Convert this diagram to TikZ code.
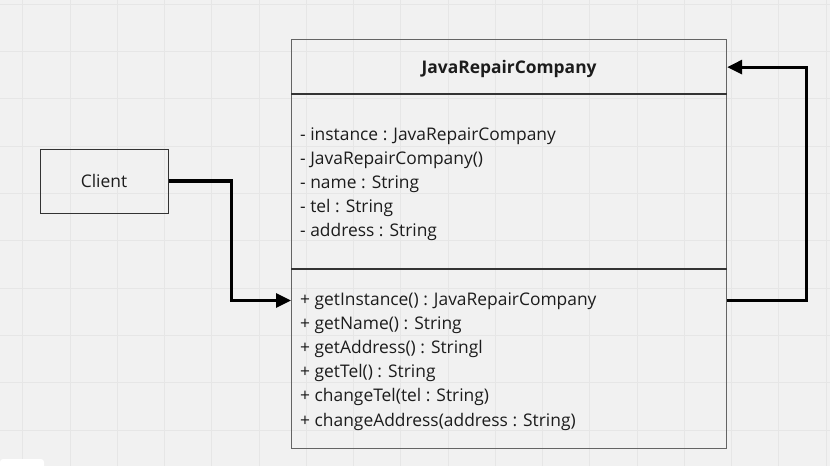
\documentclass[tikz,border=0pt]{standalone}
\usepackage{fontspec}
\setmainfont{Open Sans}
\usetikzlibrary{arrows.meta,positioning,calc}
\definecolor{canvas}{RGB}{241,241,241}
\definecolor{gridcol}{RGB}{230,230,230}
\definecolor{gridmaj}{RGB}{224,224,224}
\definecolor{boxcol}{RGB}{100,100,100}
\definecolor{sepcol}{RGB}{51,51,51}
\definecolor{txtcol}{RGB}{28,28,28}
\tikzset{
  % light grid of the canvas
  gridline/.style={draw=gridcol, line width=0.8pt},
  % class compartment
  classpart/.style={rectangle, draw=boxcol, line width=1.2pt, minimum width=435pt,
                    inner sep=0pt, anchor=north west},
  % plain box
  plainbox/.style={rectangle, draw=sepcol, line width=1pt, minimum width=128pt,
                   minimum height=64pt, font=\fontsize{17.4}{20}\selectfont, text=txtcol},
  % one member line
  member/.style={anchor=west, inner sep=0pt, text height=13pt, text depth=4pt,
                 font=\fontsize{17.4}{20}\selectfont, text=txtcol},
  % separator inside the class
  sepline/.style={draw=sepcol, line width=2pt},
  % connector
  link/.style={-{Triangle[length=15pt,width=14pt]}, line width=3.2pt, black},
}
\begin{document}
\begin{tikzpicture}[x=1pt, y=-1pt]
  \useasboundingbox (0,0) rectangle (830,466);
  \fill[canvas] (0,0) rectangle (830,466);
  % grid
  \foreach \k in {0,...,17}
    \draw[gridline] (22.7+47.25*\k,0) -- (22.7+47.25*\k,466);
  \foreach \k in {0,...,9}
    \draw[gridline] (0,4+47.35*\k) -- (830,4+47.35*\k);
  \fill[white, rounded corners=3pt] (0,459) rectangle (44,470);

  % class box
  \node[classpart, minimum height=55pt] (header) at (291,39) {};
  \node[font=\fontsize{17.4}{20}\selectfont\bfseries, text=txtcol] (title)
    at ($(header.center)+(0,1.5)$) {JavaRepairCompany};
  \node[classpart, minimum height=175pt] (attrs) at (291,94) {};
  \node[classpart, minimum height=179pt] (methods) at (291,269) {};
  \draw[sepline] (attrs.north west) -- (attrs.north east);
  \draw[sepline] (methods.north west) -- (methods.north east);

  \foreach \txt [count=\i] in {- instance : JavaRepairCompany, - JavaRepairCompany(),
      - name : String, - tel : String, - address : String}
    \node[member] (a\i) at (300,135.5+24*\i-24) {\txt};
  \foreach \txt [count=\i] in {+ getInstance() : JavaRepairCompany, + getName() : String,
      + getAddress() : Stringl, + getTel() : String, + changeTel(tel : String),
      + changeAddress(address : String)}
    \node[member] (m\i) at (300,300.5+24.2*\i-24.2) {\txt};

  \node[plainbox] (client) at (104,181) {Client};

  % connectors
  \draw[link] (client.east) -- ++(63,0) |- (methods.west |- m1);
  \draw[link] (methods.east |- m1) -- ++(79,0) |- (header.east);
\end{tikzpicture}
\end{document}
